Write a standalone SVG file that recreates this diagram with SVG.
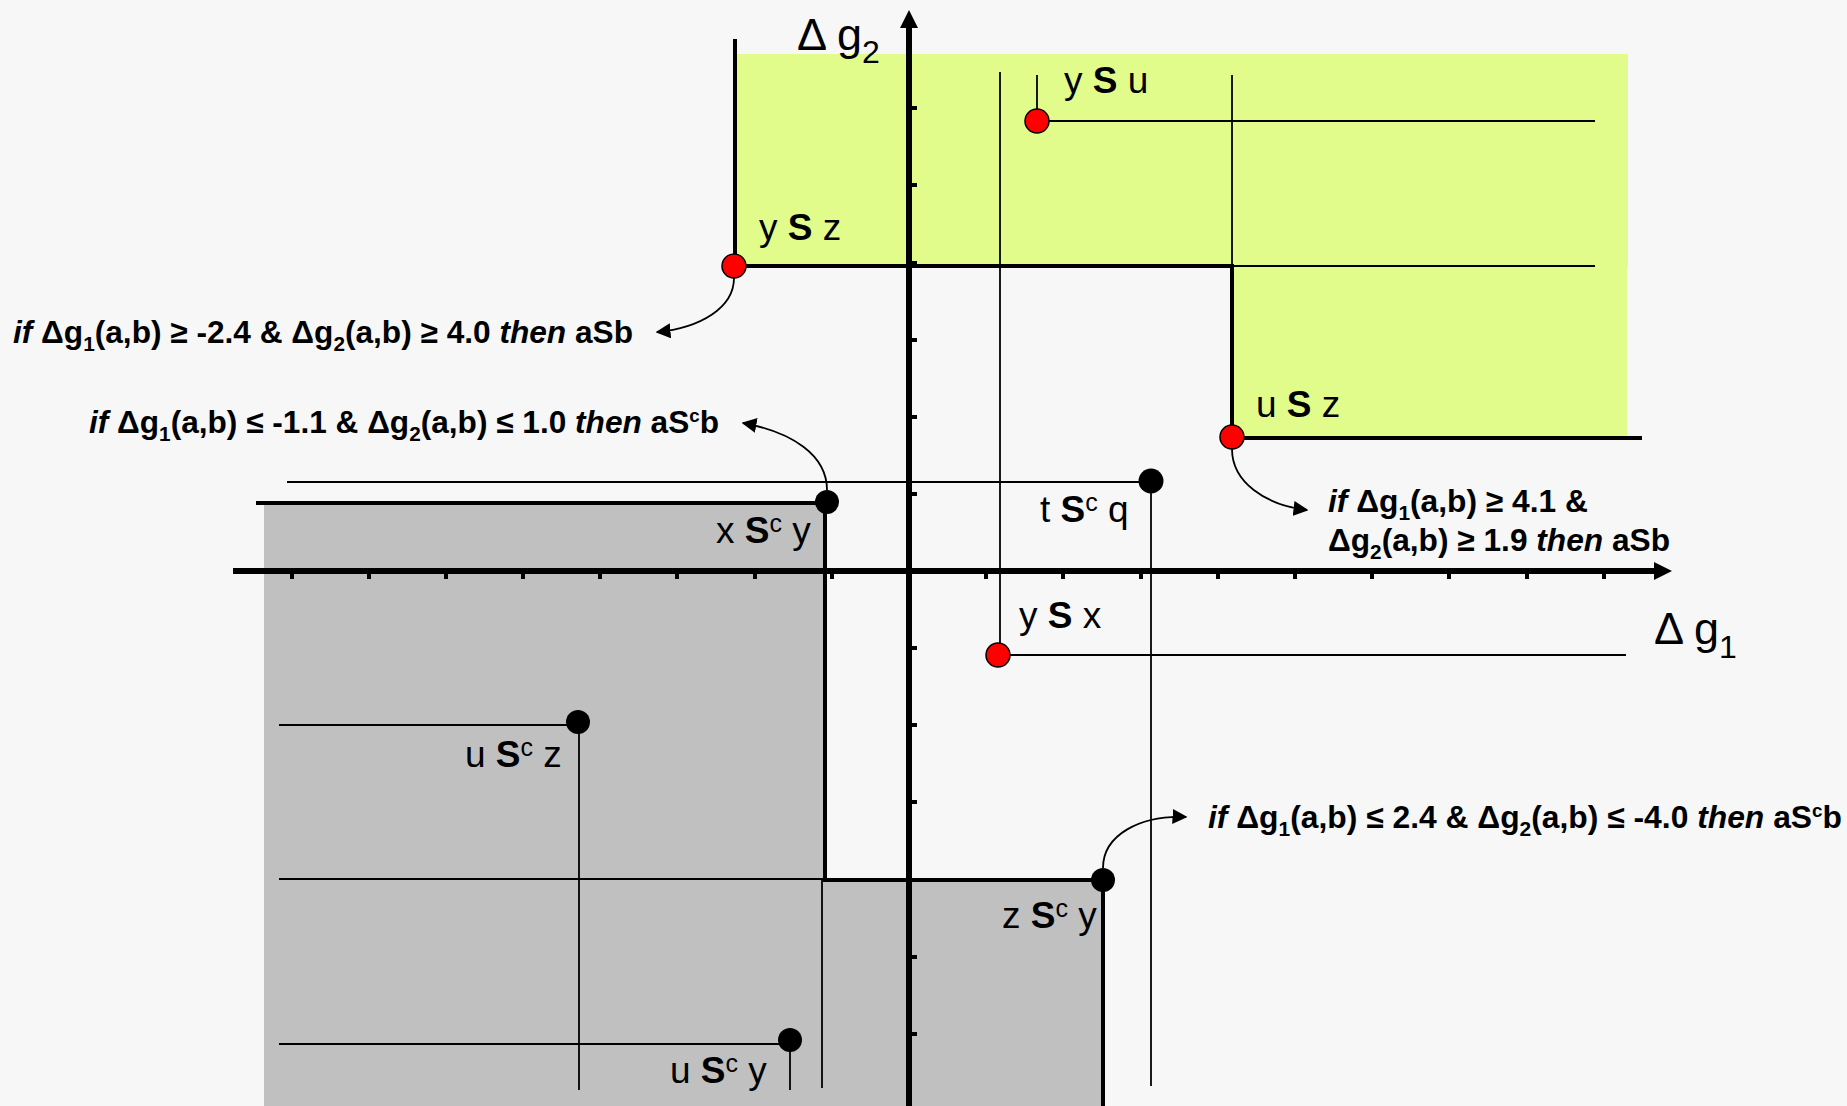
<svg xmlns="http://www.w3.org/2000/svg" width="1847" height="1106" viewBox="0 0 1847 1106">
<style>
.thick{stroke:#000;stroke-width:4;fill:none;stroke-linecap:square}
.thin{stroke:#000;stroke-width:1.8;fill:none}
.axis{stroke:#000;stroke-width:6;fill:none}
.tick{stroke:#000;stroke-width:4}
.curve{stroke:#000;stroke-width:1.8;fill:none;marker-end:url(#ah)}
.red{fill:#ff0000;stroke:#000;stroke-width:1.5}
.blk{fill:#000}
.lbl{font-family:"Liberation Sans",Arial,sans-serif;font-size:37px;fill:#000}
.ax{font-family:"Liberation Sans",Arial,sans-serif;font-size:45px;fill:#000}
.rule{font-family:"Liberation Sans",Arial,sans-serif;font-size:32px;font-weight:bold;fill:#000}
.b{font-weight:bold}
.i{font-style:italic}
</style>
<defs>
<marker id="ah" viewBox="0 0 10 10" refX="9" refY="5" markerWidth="15" markerHeight="15" markerUnits="userSpaceOnUse" orient="auto">
<path d="M0,0 L10,5 L0,10 z" fill="#000"/>
</marker>
</defs>
<rect x="0" y="0" width="1847" height="1106" fill="#f7f7f7"/>
<g id="regions">
<rect x="737" y="54" width="891" height="213" fill="#e2fc8b"/>
<rect x="1232" y="266" width="395" height="171" fill="#e2fc8b"/>
<path d="M264,503 L825,503 L825,880 L1103,880 L1103,1106 L264,1106 Z" fill="#c0c0c0"/>
</g>
<g id="axes">
<line class="axis" x1="909" y1="1106" x2="909" y2="26"/>
<polygon points="909,10 900,28 918,28" fill="#000"/>
<line class="axis" x1="233" y1="571" x2="1656" y2="571"/>
<polygon points="1672,571 1654,562 1654,580" fill="#000"/>
<g id="ticks-y">
<line class="tick" x1="909" y1="108" x2="917" y2="108"/>
<line class="tick" x1="909" y1="185" x2="917" y2="185"/>
<line class="tick" x1="909" y1="263" x2="917" y2="263"/>
<line class="tick" x1="909" y1="340" x2="917" y2="340"/>
<line class="tick" x1="909" y1="417" x2="917" y2="417"/>
<line class="tick" x1="909" y1="494" x2="917" y2="494"/>
<line class="tick" x1="909" y1="648" x2="917" y2="648"/>
<line class="tick" x1="909" y1="725" x2="917" y2="725"/>
<line class="tick" x1="909" y1="802" x2="917" y2="802"/>
<line class="tick" x1="909" y1="880" x2="917" y2="880"/>
<line class="tick" x1="909" y1="957" x2="917" y2="957"/>
<line class="tick" x1="909" y1="1034" x2="917" y2="1034"/>
</g>
<g id="ticks-x">
<line class="tick" x1="292" y1="571" x2="292" y2="579"/>
<line class="tick" x1="369" y1="571" x2="369" y2="579"/>
<line class="tick" x1="446" y1="571" x2="446" y2="579"/>
<line class="tick" x1="523" y1="571" x2="523" y2="579"/>
<line class="tick" x1="600" y1="571" x2="600" y2="579"/>
<line class="tick" x1="677" y1="571" x2="677" y2="579"/>
<line class="tick" x1="755" y1="571" x2="755" y2="579"/>
<line class="tick" x1="832" y1="571" x2="832" y2="579"/>
<line class="tick" x1="986" y1="571" x2="986" y2="579"/>
<line class="tick" x1="1063" y1="571" x2="1063" y2="579"/>
<line class="tick" x1="1141" y1="571" x2="1141" y2="579"/>
<line class="tick" x1="1218" y1="571" x2="1218" y2="579"/>
<line class="tick" x1="1295" y1="571" x2="1295" y2="579"/>
<line class="tick" x1="1372" y1="571" x2="1372" y2="579"/>
<line class="tick" x1="1449" y1="571" x2="1449" y2="579"/>
<line class="tick" x1="1527" y1="571" x2="1527" y2="579"/>
<line class="tick" x1="1604" y1="571" x2="1604" y2="579"/>
</g>
<text id="label-g2" class="ax" x="797" y="50">Δ g<tspan font-size="32" dy="13">2</tspan></text>
<text id="label-g1" class="ax" x="1654" y="644">Δ g<tspan font-size="32" dy="14">1</tspan></text>
</g>
<g id="connectors">
<path class="thick" d="M735,41 L735,266 L1232,266 L1232,438 L1640,438"/>
<path class="thick" d="M258,503 L827,503"/>
<path class="thick" d="M825,503 L825,880 L1103,880 L1103,1106"/>
<line class="thin" x1="1037" y1="75" x2="1037" y2="121"/>
<line class="thin" x1="1037" y1="121" x2="1595" y2="121"/>
<line class="thin" x1="1000" y1="72" x2="1000" y2="655"/>
<line class="thin" x1="1232" y1="75" x2="1232" y2="266"/>
<line class="thin" x1="1232" y1="266" x2="1595" y2="266"/>
<line class="thin" x1="998" y1="655" x2="1626" y2="655"/>
<line class="thin" x1="287" y1="482" x2="1151" y2="482"/>
<line class="thin" x1="1151" y1="481" x2="1151" y2="1086"/>
<line class="thin" x1="279" y1="725" x2="578" y2="725"/>
<line class="thin" x1="579" y1="722" x2="579" y2="1090"/>
<line class="thin" x1="279" y1="879" x2="825" y2="879"/>
<line class="thin" x1="822" y1="880" x2="822" y2="1088"/>
<line class="thin" x1="279" y1="1044" x2="790" y2="1044"/>
<line class="thin" x1="790" y1="1040" x2="790" y2="1090"/>
<path class="curve" d="M734,278 C734,308 700,328 657,332"/>
<path class="curve" d="M827,490 C827,455 792,432 743,423"/>
<path class="curve" d="M1232,449 C1232,482 1265,505 1307,510"/>
<path class="curve" d="M1103,868 C1103,835 1140,815 1186,817"/>
</g>
<g id="node-ySz">
<circle class="red" cx="734" cy="266" r="12"/>
<text class="lbl" x="759" y="240">y <tspan class="b">S</tspan> z</text>
</g>
<g id="node-ySu">
<circle class="red" cx="1037" cy="121" r="12"/>
<text class="lbl" x="1064" y="93">y <tspan class="b">S</tspan> u</text>
</g>
<g id="node-uSz">
<circle class="red" cx="1232" cy="437" r="12"/>
<text class="lbl" x="1256" y="417">u <tspan class="b">S</tspan> z</text>
</g>
<g id="node-ySx">
<circle class="red" cx="998" cy="655" r="12"/>
<text class="lbl" x="1019" y="628">y <tspan class="b">S</tspan> x</text>
</g>
<g id="node-tScq">
<circle class="blk" cx="1151" cy="481" r="12.5"/>
<text class="lbl" x="1040" y="522">t <tspan class="b">S</tspan><tspan font-size="25" dy="-11">c</tspan><tspan dy="11"> q</tspan></text>
</g>
<g id="node-xScy">
<circle class="blk" cx="827" cy="502" r="12"/>
<text class="lbl" x="716" y="543">x <tspan class="b">S</tspan><tspan font-size="25" dy="-11">c</tspan><tspan dy="11"> y</tspan></text>
</g>
<g id="node-uScz">
<circle class="blk" cx="578" cy="722" r="12"/>
<text class="lbl" x="465" y="767">u <tspan class="b">S</tspan><tspan font-size="25" dy="-11">c</tspan><tspan dy="11"> z</tspan></text>
</g>
<g id="node-uScy">
<circle class="blk" cx="790" cy="1040" r="12"/>
<text class="lbl" x="670" y="1083">u <tspan class="b">S</tspan><tspan font-size="25" dy="-11">c</tspan><tspan dy="11"> y</tspan></text>
</g>
<g id="node-zScy">
<circle class="blk" cx="1103" cy="880" r="12"/>
<text class="lbl" x="1002" y="928">z <tspan class="b">S</tspan><tspan font-size="25" dy="-11">c</tspan><tspan dy="11"> y</tspan></text>
</g>
<g id="rule-1">
<text class="rule" x="13" y="343" textLength="620" lengthAdjust="spacingAndGlyphs"><tspan class="i">if</tspan> Δg<tspan font-size="21" dy="8">1</tspan><tspan dy="-8">(a,b) ≥ -2.4 &amp; Δg</tspan><tspan font-size="21" dy="8">2</tspan><tspan dy="-8">(a,b) ≥ 4.0 </tspan><tspan class="i">then</tspan> aSb</text>
</g>
<g id="rule-2">
<text class="rule" x="89" y="433" textLength="630" lengthAdjust="spacingAndGlyphs"><tspan class="i">if</tspan> Δg<tspan font-size="21" dy="8">1</tspan><tspan dy="-8">(a,b) ≤ -1.1 &amp; Δg</tspan><tspan font-size="21" dy="8">2</tspan><tspan dy="-8">(a,b) ≤ 1.0 </tspan><tspan class="i">then</tspan> aS<tspan font-size="19" dy="-11">c</tspan><tspan dy="11">b</tspan></text>
</g>
<g id="rule-3">
<text class="rule" x="1328" y="512" textLength="260" lengthAdjust="spacingAndGlyphs"><tspan class="i">if</tspan> Δg<tspan font-size="21" dy="8">1</tspan><tspan dy="-8">(a,b) ≥ 4.1 &amp;</tspan></text>
<text class="rule" x="1328" y="551" textLength="342" lengthAdjust="spacingAndGlyphs">Δg<tspan font-size="21" dy="8">2</tspan><tspan dy="-8">(a,b) ≥ 1.9 </tspan><tspan class="i">then</tspan> aSb</text>
</g>
<g id="rule-4">
<text class="rule" x="1208" y="828" textLength="634" lengthAdjust="spacingAndGlyphs"><tspan class="i">if</tspan> Δg<tspan font-size="21" dy="8">1</tspan><tspan dy="-8">(a,b) ≤ 2.4 &amp; Δg</tspan><tspan font-size="21" dy="8">2</tspan><tspan dy="-8">(a,b) ≤ -4.0 </tspan><tspan class="i">then</tspan> aS<tspan font-size="19" dy="-11">c</tspan><tspan dy="11">b</tspan></text>
</g>
</svg>
